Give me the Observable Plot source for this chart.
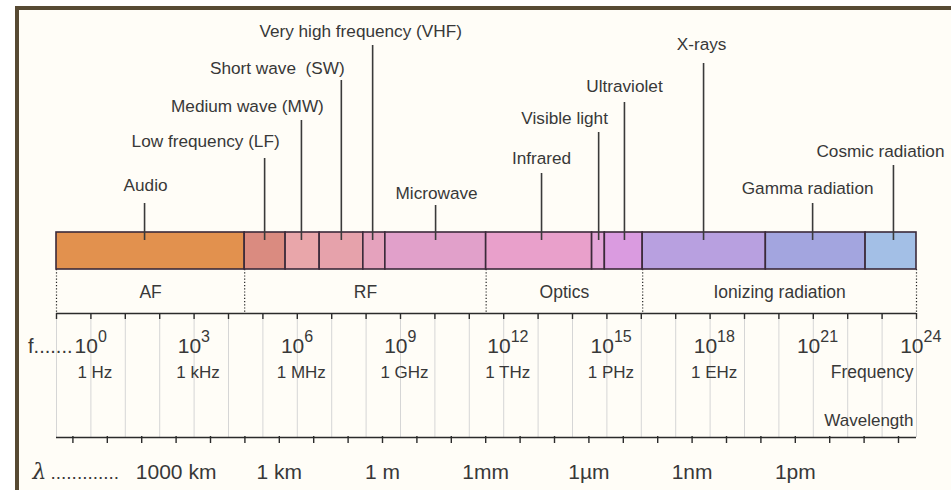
<!DOCTYPE html>
<html>
<head>
<meta charset="utf-8">
<script src="https://cdn.jsdelivr.net/npm/d3@7"></script>
<script src="https://cdn.jsdelivr.net/npm/@observablehq/plot@0.6"></script>
<style>
  html, body { margin: 0; padding: 0; background: #ffffff; }
  svg { display: block; }
</style>
</head>
<body>
<script>
// ---------------- data (frequencies as log10 of Hz) ----------------
const bandNames  = ["Audio", "LF", "MW", "SW", "VHF", "Microwave", "Infrared", "Visible light", "Ultraviolet", "X-rays", "Gamma radiation", "Cosmic radiation"];
const bandStart  = [-1, 4.47, 5.66, 6.65, 7.92, 8.56, 11.49, 14.57, 14.94, 16.04, 19.62, 22.52];
const bandEnd    = [4.47, 5.66, 6.65, 7.92, 8.56, 11.49, 14.57, 14.94, 16.04, 19.62, 22.52, 24];
const bandColors = ["#e2914e", "#da8b80", "#e9a6aa", "#e6a2ab", "#e5a2bd", "#e1a0ca", "#e9a0cb", "#e4a5d8", "#da9be0", "#b8a0e0", "#a3a5df", "#a3bfe6"];

const calloutLabels = ["Audio", "Low frequency (LF)", "Medium wave (MW)", "Short wave  (SW)", "Very high frequency (VHF)", "Microwave", "Infrared", "Visible light", "Ultraviolet", "X-rays", "Gamma radiation", "Cosmic radiation"];
const calloutAt     = [1.56, 5.05, 6.12, 7.28, 8.19, 10.02, 13.10, 14.76, 15.51, 17.81, 20.98, 23.33];

const groupNames = ["AF", "RF", "Optics", "Ionizing radiation"];
const groupStart = [-1, 4.47, 11.49, 16.04];
const groupEnd   = [4.47, 11.49, 16.04, 24];

const freqPowers = [0, 3, 6, 9, 12, 15, 18, 21, 24];
const freqUnits  = ["1 Hz", "1 kHz", "1 MHz", "1 GHz", "1 THz", "1 PHz", "1 EHz"];
const waveExponents = [6, 3, 0, -3, -6, -9, -12];   // log10 of metres
const waveLabels    = ["1000 km", "1 km", "1 m", "1mm", "1µm", "1nm", "1pm"];
const decadeTicks   = d3.range(-1, 25);
const waveTicks     = d3.range(-15, 10);
const logC = Math.log10(299792458);

// ---------------- layout (pixels) ----------------
const L = {x0: 56, x1: 916, barTop: 232, barBottom: 269, calloutEnd: 240, freqAxis: 313, tick: 6,
           waveAxis: 437, groupLabel: 297, powerBase: 352, powerExp: 341, unitLabel: 377,
           waveLabel: 478, freqWord: 377, waveWord: 425, leftY: 352, lambdaY: 478};
// per-callout: text baseline, line top, text offset from line (px)
const calloutTextY = [190, 146, 111, 73, 36, 198, 163, 123, 91, 49, 193, 156];
const calloutTop   = [203, 158, 120, 80, 45, 205, 173, 132, 102, 63, 203, 165];
const calloutDx    = [1, -59, -54, -64, -12, 1, 0, -34, 0, -2, -5, -13];

const pxPerDecade = (L.x1 - L.x0) / 25;
const FONT = "Liberation Sans, Arial, sans-serif";
const INK = "#383838";
const BORDER = "#574a33";
const PAPER = "#fffdf7";

const bands = bandNames.map((name, i) => ({name, start: bandStart[i], end: bandEnd[i], color: bandColors[i]}));
const callouts = calloutLabels.map((label, i) => ({label, at: calloutAt[i], ty: calloutTextY[i], top: calloutTop[i], dx: calloutDx[i]}));
const groups = groupNames.map((name, i) => ({name, start: groupStart[i], end: groupEnd[i]}));
const boundaries = [groupStart[0], ...groupEnd];
const units = freqUnits.map((u, i) => ({u, p: freqPowers[i]}));
const waves = waveLabels.map((w, i) => ({w, x: logC - waveExponents[i]}));

const chart = Plot.plot({
  width: 951, height: 490,
  marginTop: 0, marginRight: 0, marginBottom: 0, marginLeft: 0,
  style: {
    fontFamily: FONT,
    background: `linear-gradient(${BORDER},${BORDER}) 15px 6px / 4px 484px no-repeat,
                 linear-gradient(${BORDER},${BORDER}) 15px 6px / 936px 4px no-repeat,
                 linear-gradient(${PAPER},${PAPER}) 15px 6px / 936px 484px no-repeat, #ffffff`
  },
  x: {type: "linear", domain: [-1, 24], range: [L.x0, L.x1], axis: null},
  y: {type: "identity"},
  marks: [
    // light grid between the two axes
    Plot.ruleX(decadeTicks, {x: d => d, y1: L.freqAxis, y2: L.waveAxis, stroke: "#d6d6d6", strokeWidth: 1}),
    // group boundary dotted lines
    Plot.ruleX(boundaries, {x: d => d, y1: L.barBottom, y2: L.freqAxis, stroke: "#222", strokeWidth: 1.2, strokeDasharray: "1.2,2"}),
    // frequency axis
    Plot.ruleY([L.freqAxis], {x1: -1, x2: 24, stroke: "#2b2b2b", strokeWidth: 1.6}),
    Plot.ruleX(decadeTicks, {x: d => d, y1: L.freqAxis, y2: L.freqAxis + L.tick, stroke: "#2b2b2b", strokeWidth: 1.4}),
    // wavelength axis
    Plot.ruleY([L.waveAxis], {x1: -1, x2: 24, stroke: "#2b2b2b", strokeWidth: 1.6}),
    Plot.ruleX(waveTicks, {x: k => logC - k, y1: L.waveAxis - 1, y2: L.waveAxis + L.tick, stroke: "#2b2b2b", strokeWidth: 1.4}),
    // spectrum bar
    Plot.rect(bands, {x1: "start", x2: "end", y1: L.barTop, y2: L.barBottom, fill: "color", stroke: "#3b2a3a", strokeWidth: 1.6}),
    // callout lines and labels
    Plot.ruleX(callouts, {x: "at", y1: "top", y2: L.calloutEnd, stroke: "#3a3a3a", strokeWidth: 1.6}),
    Plot.text(callouts, {x: d => d.at + d.dx / pxPerDecade, y: "ty", text: "label", fontSize: 17.2, fill: INK, lineAnchor: "bottom", textAnchor: "middle"}),
    // group labels
    Plot.text(groups, {x: d => (d.start + d.end) / 2, y: L.groupLabel, text: "name", fontSize: 17.5, fill: INK, lineAnchor: "bottom"}),
    // powers of ten
    Plot.text(freqPowers, {x: d => d, y: L.powerBase, text: () => "10", dx: 7, textAnchor: "end", fontSize: 21, fill: INK, lineAnchor: "bottom"}),
    Plot.text(freqPowers, {x: d => d, y: L.powerExp, text: d => String(d), dx: 7, textAnchor: "start", fontSize: 16, fill: INK, lineAnchor: "bottom"}),
    Plot.text(units, {x: "p", y: L.unitLabel, text: "u", dx: 4, fontSize: 17, fill: INK, lineAnchor: "bottom"}),
    Plot.text(["Frequency"], {x: 24, y: L.freqWord, text: d => d, dx: -3, textAnchor: "end", fontSize: 17.5, fill: INK, lineAnchor: "bottom"}),
    Plot.text(["Wavelength"], {x: 24, y: L.waveWord, text: d => d, dx: -3, textAnchor: "end", fontSize: 17, fill: INK, lineAnchor: "bottom"}),
    // wavelength labels
    Plot.text(waves, {x: "x", y: L.waveLabel, text: "w", fontSize: 21, fill: INK, lineAnchor: "bottom"}),
    // left-hand symbols
    Plot.text(["f......."], {x: -1, y: L.leftY, text: d => d, dx: 16, textAnchor: "end", fontSize: 20, fill: INK, lineAnchor: "bottom"}),
    Plot.text(["λ"], {x: -1, y: L.lambdaY, text: d => d, dx: -17, textAnchor: "middle", fontSize: 22, fontStyle: "italic", fontFamily: "DejaVu Serif, serif", fill: INK, lineAnchor: "bottom"}),
    Plot.text(["............."], {x: -1, y: L.lambdaY, text: d => d, dx: -6, textAnchor: "start", fontSize: 19, fill: INK, lineAnchor: "bottom"})
  ]
});
document.body.appendChild(chart);
</script>
</body>
</html>
